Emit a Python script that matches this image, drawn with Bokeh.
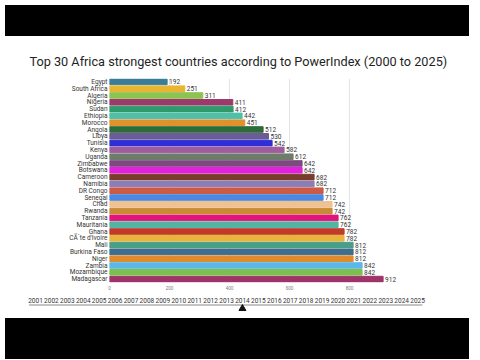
from bokeh.plotting import figure
from bokeh.models import Range1d, FactorRange, FixedTicker, Div, ColumnDataSource
from bokeh.embed import file_html
from bokeh.resources import INLINE
from bokeh.core.properties import value

countries = ["Egypt", "South Africa", "Algeria", "Nigeria", "Sudan", "Ethiopia", "Morocco",
             "Angola", "Libya", "Tunisia", "Kenya", "Uganda", "Zimbabwe", "Botswana",
             "Cameroon", "Namibia", "DR Congo", "Senegal", "Chad", "Rwanda", "Tanzania",
             "Mauritania", "Ghana", "CÃ´te d'Ivoire", "Mali", "Burkina Faso", "Niger",
             "Zambia", "Mozambique", "Madagascar"]
power = [192, 251, 311, 411, 412, 442, 451, 512, 530, 542, 582, 612, 642, 642, 682, 682,
         712, 712, 742, 742, 762, 762, 782, 782, 812, 812, 812, 842, 842, 912]
colors = ["#3b7d98", "#e8b633", "#8dc350", "#9c3a6b", "#2f9a6c", "#4fbfa8", "#df922c",
          "#2e6b3a", "#6b5b96", "#2e2fd6", "#9f5d9d", "#6e7d6b", "#7c4a7e", "#e41fdf",
          "#7b3d2b", "#8b7db5", "#cb5a46", "#4b88e0", "#f2c191", "#c98a36", "#e0167d",
          "#52b5a2", "#c03b2b", "#e8b53a", "#4a9d86", "#3d6d8f", "#df8a2c", "#5cb8e8",
          "#7cc04e", "#9e3468"]
x_ticks = [0, 200, 400, 600, 800]
years = list(range(2001, 2026))
current_year = 2014
title_text = "Top 30 Africa strongest countries according to PowerIndex (2000 to 2025)"

W = 464
LEFT = 109
RIGHT = 25

src = ColumnDataSource(dict(country=countries, power=power, color=colors,
                            label=[str(v) for v in power]))

p = figure(width=W, height=251, output_backend="svg", toolbar_location=None,
           y_range=FactorRange(factors=countries[::-1], range_padding=0),
           x_range=Range1d(0, 1100), title=title_text,
           min_border_left=LEFT, min_border_right=RIGHT, min_border_top=34,
           min_border_bottom=10)
p.title.align = "left"
p.title.offset = -80
p.title.standoff = 20
p.title.text_font = "Roboto"
p.title.text_font_size = "12.7px"
p.title.text_font_style = "normal"
p.title.text_color = "#1d241d"
p.outline_line_color = None
p.background_fill_color = "white"
p.border_fill_color = "white"

p.hbar(y="country", right="power", left=0, height=0.82, color="color", source=src)
p.text(x="power", y="country", text="label", source=src, x_offset=2,
       text_baseline="middle", text_font=value("Roboto"), text_font_size="6.5px",
       text_color="#333333")

p.xaxis.ticker = FixedTicker(ticks=x_ticks)
p.xaxis.axis_line_color = None
p.xaxis.major_tick_line_color = None
p.xaxis.minor_tick_line_color = None
p.xaxis.major_tick_out = 0
p.xaxis.major_tick_in = 0
p.xaxis.minor_tick_out = 0
p.xaxis.major_label_text_font_size = "4.5px"
p.xaxis.major_label_text_color = "#777777"
p.xaxis.major_label_standoff = 3

p.yaxis.axis_line_color = None
p.yaxis.major_tick_line_color = None
p.yaxis.major_tick_out = 0
p.yaxis.major_tick_in = 0
p.yaxis.major_label_text_font = "Roboto"
p.yaxis.major_label_text_font_size = "6.5px"
p.yaxis.major_label_text_color = "#333333"
p.yaxis.major_label_standoff = 2

p.xgrid.grid_line_color = "#e4e4e4"
p.ygrid.grid_line_color = None

# timeline strip, full-width frame
t = figure(width=W, height=21, output_backend="svg", toolbar_location=None,
           x_range=Range1d(1998.802, 2027.948), y_range=Range1d(21, 0),
           min_border_left=0, min_border_right=0, min_border_top=0,
           min_border_bottom=0)
t.axis.visible = False
t.grid.visible = False
t.outline_line_color = None
t.text(x=years, y=[8] * len(years), text=[str(y) for y in years], text_align="center",
       text_baseline="middle", text_font=value("Roboto"), text_font_size="6.5px",
       text_color="#333333")
t.line(x=[years[0] - 0.4, years[-1] + 0.3], y=[12.5, 12.5], line_color="#888888",
       line_width=1)
t.scatter(x=[current_year], y=[16], marker="triangle", size=7, color="#111111")

top = Div(width=W, height=31, styles={"background-color": "black"})
bot = Div(width=W, height=41, styles={"background-color": "black"})

open("out.html", "w").write(file_html([top, p, t, bot], INLINE))
